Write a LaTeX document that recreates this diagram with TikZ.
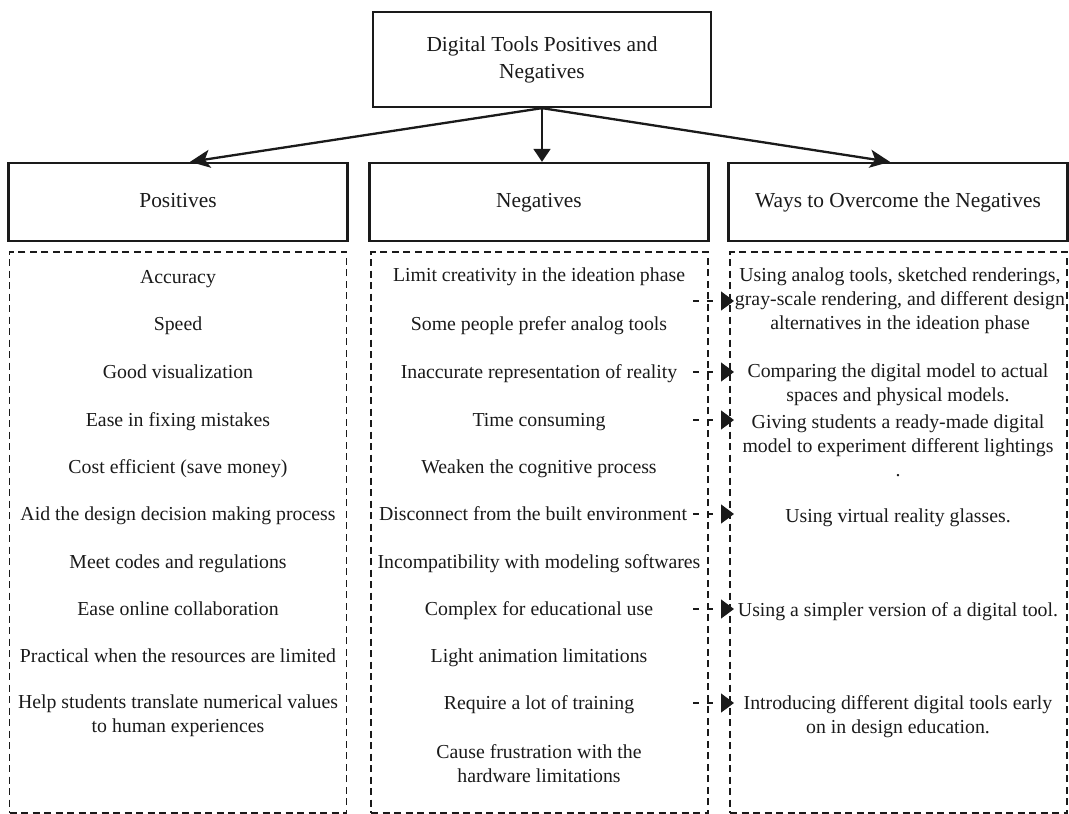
\documentclass[tikz,border=0pt]{standalone}
\usepackage{fontspec}
\setmainfont{Liberation Serif}
\usetikzlibrary{arrows.meta,calc}
\definecolor{ink}{HTML}{1A1A1A}
\begin{document}
\begin{tikzpicture}[x=1pt,y=-1pt,
  solidbox/.style={draw=ink,line width=2.3pt,minimum width=339pt,minimum height=78pt,
    inner sep=0pt,text=ink,align=center,font=\fontsize{21.4}{27}\selectfont},
  headtext/.style={text height=14.5pt,text depth=4.5pt},
  panel/.style={draw=ink,line width=1.1pt,dash pattern=on 7pt off 4.5pt,
    minimum width=337pt,minimum height=561pt,inner sep=0pt},
  entry/.style={text=ink,align=center,inner sep=0pt,font=\fontsize{19.8}{24}\selectfont},
  line/.style={entry,anchor=base},
  down/.style={draw=ink,line width=2.3pt,-{Stealth[length=20pt,width=18pt,inset=5pt]}},
  downmid/.style={draw=ink,line width=1.6pt,-{Triangle[length=13pt,width=17pt]}},
  link/.style={draw=ink,line width=1.3pt,dash pattern=on 6pt off 8pt,
    -{Triangle[length=13pt,width=19pt]}},
]
\useasboundingbox (0,0) rectangle (1069,814);

% title and column headers
\node[solidbox,minimum width=338pt,minimum height=95pt] (top) at (542,59.5)
  {Digital Tools Positives and\\Negatives};
\node[solidbox,headtext] (hp) at (178,202) {Positives};
\node[solidbox,headtext] (hn) at (539,202) {Negatives};
\node[solidbox,headtext] (hw) at (898,202) {Ways to Overcome the Negatives};

\draw[down] (top.south) -- ([xshift=12pt]hp.north);
\draw[downmid] (top.south) -- ([xshift=3pt]hn.north);
\draw[down] (top.south) -- ([xshift=-8pt]hw.north);

% dashed panels
\node[panel] (pp) at (178,532.5) {};
\node[panel] (pn) at (539.5,532.5) {};
\node[panel] (pw) at (898.5,532.5) {};

% positives
\node[line] (p1) at (178,283) {Accuracy};
\node[line] (p2) at (178,330) {Speed};
\node[line] (p3) at (178,378) {Good visualization};
\node[line] (p4) at (178,426) {Ease in fixing mistakes};
\node[line] (p5) at (178,473) {Cost efficient (save money)};
\node[line] (p6) at (178,520) {Aid the design decision making process};
\node[line] (p7) at (178,568) {Meet codes and regulations};
\node[line] (p8) at (178,615) {Ease online collaboration};
\node[line] (p9) at (178,662) {Practical when the resources are limited};
\node[entry] (p10) at (178,715.5) {Help students translate numerical values\\to human experiences};

% negatives
\node[line] (n1) at (539,281) {Limit creativity in the ideation phase};
\node[line] (n2) at (539,330) {Some people prefer analog tools};
\node[line] (n3) at (539,378) {Inaccurate representation of reality};
\node[line] (n4) at (539,426) {Time consuming};
\node[line] (n5) at (539,473) {Weaken the cognitive process};
\node[line] (n6) at (533,520) {Disconnect from the built environment};
\node[line] (n7) at (539,568) {Incompatibility with modeling softwares};
\node[line] (n8) at (539,615) {Complex for educational use};
\node[line] (n9) at (539,662) {Light animation limitations};
\node[line] (n10) at (539,709) {Require a lot of training};
\node[entry] (n11) at (539,763.5) {Cause frustration with the\\hardware limitations};

% ways to overcome
\node[entry] (w1) at (900,301) {Using analog tools, sketched renderings,\\gray-scale rendering, and different design\\alternatives in the ideation phase};
\node[entry] (w2) at (898,385) {Comparing the digital model to actual\\spaces and physical models.};
\node[entry] (w3) at (898,446) {Giving students a ready-made digital\\model to experiment different lightings\\.};
\node[line] (w4) at (898,522) {Using virtual reality glasses.};
\node[line] (w5) at (898,616) {Using a simpler version of a digital tool.};
\node[entry] (w6) at (898,717) {Introducing different digital tools early\\on in design education.};

% links between the negatives and their remedies (drawn at text mid-height)
\coordinate (ls) at (693,0);
\coordinate (le) at (734,0);
\draw[link] (w1.center -| ls) -- (w1.center -| le);
\draw[link] ([yshift=6pt]n3.base -| ls) -- ([yshift=6pt]n3.base -| le);
\draw[link] ([yshift=6pt]n4.base -| ls) -- ([yshift=6pt]n4.base -| le);
\draw[link] ([yshift=6pt]n6.base -| ls) -- ([yshift=6pt]n6.base -| le);
\draw[link] ([yshift=6pt]n8.base -| ls) -- ([yshift=6pt]n8.base -| le);
\draw[link] ([yshift=6pt]n10.base -| ls) -- ([yshift=6pt]n10.base -| le);
\end{tikzpicture}
\end{document}
